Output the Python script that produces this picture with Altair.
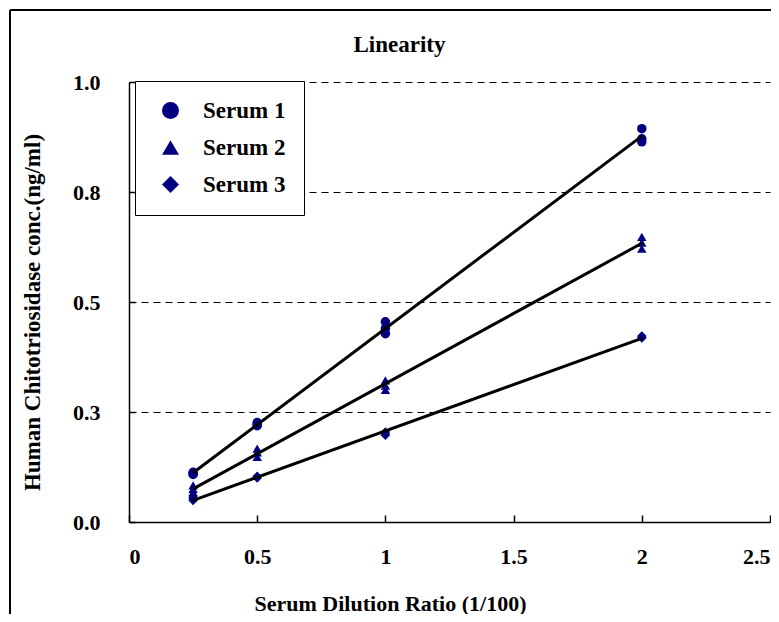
import altair as alt
import pandas as pd

# ---- data ----
dilutions = [0.25, 0.5, 1.0, 2.0]
series_names = ["Serum 1", "Serum 2", "Serum 3"]
serum1_rep1 = [0.113, 0.226, 0.455, 0.894]
serum1_rep2 = [0.108, 0.222, 0.440, 0.871]
serum1_rep3 = [0.110, 0.219, 0.428, 0.864]
serum2_rep1 = [0.083, 0.167, 0.322, 0.648]
serum2_rep2 = [0.075, 0.158, 0.310, 0.635]
serum2_rep3 = [0.068, 0.148, 0.300, 0.621]
serum3_rep1 = [0.057, 0.104, 0.2045, 0.423]
serum3_rep2 = [0.049, 0.100, 0.197, 0.418]
serum3_rep3 = [0.053, 0.102, 0.200, 0.420]
x_ticks = [0, 0.5, 1, 1.5, 2, 2.5]
y_ticks = [0, 0.25, 0.5, 0.75, 1.0]

reps = {
    "Serum 1": [serum1_rep1, serum1_rep2, serum1_rep3],
    "Serum 2": [serum2_rep1, serum2_rep2, serum2_rep3],
    "Serum 3": [serum3_rep1, serum3_rep2, serum3_rep3],
}
rows = []
for name in series_names:
    for rep in reps[name]:
        for d, v in zip(dilutions, rep):
            rows.append({"series": name, "dil": d, "conc": v})
df = pd.DataFrame(rows)

FONT = "Liberation Serif"

x_enc = alt.X(
    "dil:Q",
    scale=alt.Scale(domain=[0, 2.5], nice=False, zero=False),
    axis=alt.Axis(
        values=x_ticks, format="~g", title="Serum Dilution Ratio (1/100)",
        grid=False, tickSize={"expr": "-7"}, labelPadding=31,
        titleX=261, titleY=81, titleBaseline="middle", titleAlign="center",
        titleFontSize=22,
    ),
)
y_enc = alt.Y(
    "conc:Q",
    scale=alt.Scale(domain=[0, 1], nice=False),
    axis=alt.Axis(
        values=y_ticks, format=".1f",
        title="Human Chitotriosidase conc.(ng/ml)",
        grid=True, gridDash=[7, 5], gridColor="black", gridWidth=1,
        tickSize={"expr": "-6"}, labelPadding=35,
        titleX=-97, titleY=230, titleAngle=-90, titleBaseline="middle",
        titleAlign="center", titleFontSize=23,
    ),
)

points = alt.Chart(df).mark_point(filled=True, size=90, opacity=1, color="#000080").encode(
    x=x_enc,
    y=y_enc,
    shape=alt.Shape(
        "series:N",
        scale=alt.Scale(domain=series_names, range=["circle", "triangle-up", "diamond"]),
        legend=alt.Legend(
            title=None, orient="none", legendX=6, legendY=-1,
            strokeColor="black", fillColor="white", padding=18,
            rowPadding=13, symbolSize=289, symbolFillColor="black",
            symbolStrokeColor="black", symbolStrokeWidth=0, symbolOffset=6,
            labelFont=FONT, labelFontSize=23, labelFontWeight="bold",
            labelColor="black", labelOffset=21,
        ),
    ),
)

lines = alt.Chart(df).transform_regression(
    "dil", "conc", groupby=["series"]
).mark_line(color="black", strokeWidth=3).encode(
    x="dil:Q", y="conc:Q", detail="series:N"
)

frame_top = alt.Chart(df).mark_rule(color="black", strokeWidth=1.5).encode(
    x=alt.value(-119), x2=alt.value(660), y=alt.value(-72)
)
frame_left = alt.Chart(df).mark_rule(color="black", strokeWidth=1.5).encode(
    x=alt.value(-119), y=alt.value(-72), y2=alt.value(540)
)

chart = alt.layer(points, lines, frame_top, frame_left).properties(
    width=641,
    height=440,
    autosize=alt.AutoSizeParams(type="none"),
    padding={"left": 121, "top": 74, "right": 1, "bottom": 92},
    title=alt.TitleParams(
        text="Linearity", font=FONT, fontSize=23, fontWeight="bold",
        color="black", anchor="middle", dx=-50, offset=-59,
        baseline="middle", frame="group",
    ),
).configure_axis(
    labelFont=FONT, labelFontSize=22, labelFontWeight="bold", labelColor="black",
    titleFont=FONT, titleFontWeight="bold", titleColor="black",
    domainColor="black", domainWidth=1.5, tickColor="black", tickWidth=1.5,
).configure_view(stroke=None)

chart.save("out.html", embed_options={"renderer": "svg", "actions": False})
